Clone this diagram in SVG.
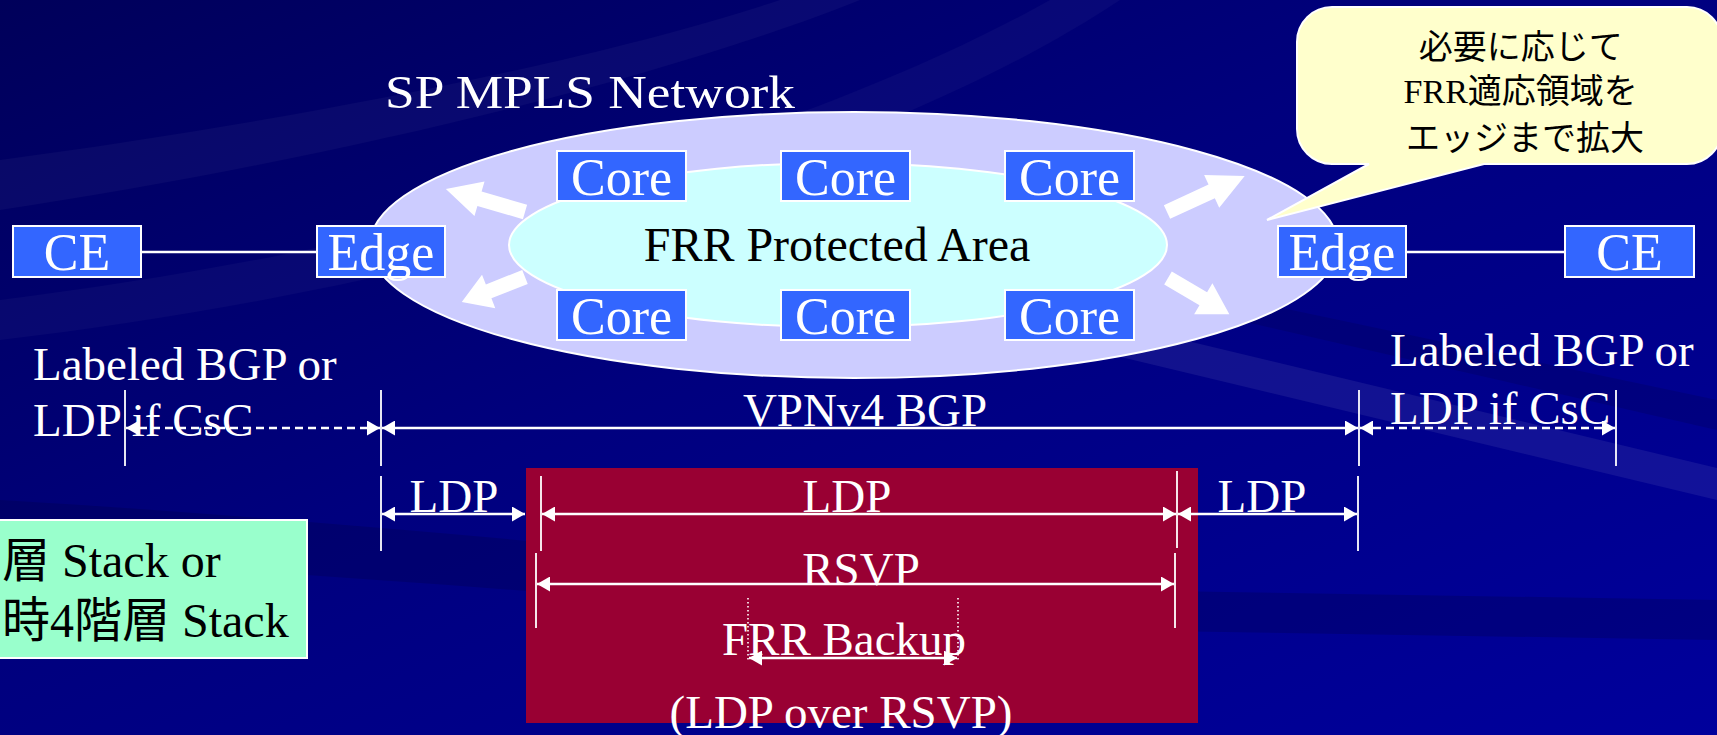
<svg xmlns="http://www.w3.org/2000/svg" width="1717" height="735" viewBox="0 0 1717 735">
  <style>
    .serif { font-family: "Liberation Serif", "Noto Sans CJK JP", serif; }
    .box { fill: #3366FF; stroke: #FFFFFF; stroke-width: 2; }
    .boxlabel { fill: #FFFFFF; font-size: 52px; text-anchor: middle; }
    .wtext { fill: #FFFFFF; font-size: 47px; }
    .mid { text-anchor: middle; }
    .link { stroke: #FFFFFF; stroke-width: 2.5; fill: none; }
    .span { stroke: #FFFFFF; stroke-width: 2.5; fill: none; marker-start: url(#head); marker-end: url(#head); }
    .dashed { stroke-dasharray: 8 5; }
    .tick { stroke: #FFFFFF; stroke-width: 1.8; }
    .dots { stroke: #FFFFFF; stroke-width: 1.6; stroke-dasharray: 1.5 2.5; }
    .bigarrow { fill: #FFFFFF; }
  </style>
  <defs>
    <linearGradient id="bgGrad" x1="0" y1="0" x2="1" y2="1">
      <stop offset="0" stop-color="#00005A"/>
      <stop offset="0.45" stop-color="#00007E"/>
      <stop offset="1" stop-color="#00009C"/>
    </linearGradient>
    <marker id="head" viewBox="0 0 13 15" refX="13" refY="7.5" markerWidth="13" markerHeight="15" markerUnits="userSpaceOnUse" orient="auto-start-reverse">
      <path d="M0,0 L13,7.5 L0,15 Z" fill="#FFFFFF"/>
    </marker>
    <!-- block arrow pointing along +x, 80 long -->
    <path id="blockArrow" d="M0,-7.5 L46,-7.5 L46,-18 L80,0 L46,18 L46,7.5 L0,7.5 Z"/>
  </defs>

  <!-- background with soft diagonal streaks -->
  <g id="background">
    <rect x="0" y="0" width="1717" height="735" fill="url(#bgGrad)"/>
    <path d="M0,160 C300,120 600,60 780,0 L860,0 C660,80 330,160 0,210 Z" fill="#FFFFFF" opacity="0.035"/>
    <path d="M0,300 C400,250 800,140 1050,0 L1120,0 C880,160 430,290 0,340 Z" fill="#FFFFFF" opacity="0.03"/>
    <path d="M0,500 C350,520 700,560 1100,590 L1717,600 L1717,640 L1100,630 C700,610 350,570 0,560 Z" fill="#000040" opacity="0.25"/>
    <path d="M1100,320 L1717,468 L1717,500 L1100,352 Z" fill="#FFFFFF" opacity="0.07"/>
    <path d="M1150,280 L1717,400 L1717,430 L1150,300 Z" fill="#000040" opacity="0.2"/>
  </g>

  <!-- network cloud -->
  <g id="sp-network">
    <ellipse cx="854" cy="245" rx="484" ry="133" fill="#CCCCFF" stroke="#FFFFFF" stroke-width="2"/>
    <text class="serif wtext" x="385" y="108" font-size="54" textLength="410" lengthAdjust="spacingAndGlyphs">SP MPLS Network</text>
  </g>
  <g id="frr-area">
    <ellipse cx="838" cy="245" rx="329" ry="82" fill="#CCFFFF" stroke="#FFFFFF" stroke-width="2"/>
    <text class="serif mid" x="837" y="261" font-size="48" fill="#000000">FRR Protected Area</text>
  </g>

  <!-- expansion arrows -->
  <g id="expand-arrows" class="bigarrow">
    <use href="#blockArrow" transform="translate(525,212) rotate(196.2) scale(1.03,1)"/>
    <use href="#blockArrow" transform="translate(525,277) rotate(158.4) scale(0.85,1)"/>
    <use href="#blockArrow" transform="translate(1167,212) rotate(-24.8) scale(1.07,1)"/>
    <use href="#blockArrow" transform="translate(1168,278) rotate(30.5) scale(0.89,1)"/>
  </g>

  <!-- connectors -->
  <g id="connectors">
    <line class="link" x1="141" y1="252" x2="317" y2="252"/>
    <line class="link" x1="1406" y1="252" x2="1565" y2="252"/>
  </g>

  <!-- nodes -->
  <g id="ce-left">
    <rect class="box" x="13" y="226" width="128" height="51"/>
    <text class="serif boxlabel" x="77" y="270">CE</text>
  </g>
  <g id="edge-left">
    <rect class="box" x="317" y="226" width="128" height="51"/>
    <text class="serif boxlabel" x="381" y="270">Edge</text>
  </g>
  <g id="core-1">
    <rect class="box" x="557" y="151" width="129" height="50"/>
    <text class="serif boxlabel" x="621.5" y="195">Core</text>
  </g>
  <g id="core-2">
    <rect class="box" x="781" y="151" width="129" height="50"/>
    <text class="serif boxlabel" x="845.5" y="195">Core</text>
  </g>
  <g id="core-3">
    <rect class="box" x="1005" y="151" width="129" height="50"/>
    <text class="serif boxlabel" x="1069.5" y="195">Core</text>
  </g>
  <g id="core-4">
    <rect class="box" x="557" y="290" width="129" height="50"/>
    <text class="serif boxlabel" x="621.5" y="334">Core</text>
  </g>
  <g id="core-5">
    <rect class="box" x="781" y="290" width="129" height="50"/>
    <text class="serif boxlabel" x="845.5" y="334">Core</text>
  </g>
  <g id="core-6">
    <rect class="box" x="1005" y="290" width="129" height="50"/>
    <text class="serif boxlabel" x="1069.5" y="334">Core</text>
  </g>
  <g id="edge-right">
    <rect class="box" x="1278" y="226" width="128" height="51"/>
    <text class="serif boxlabel" x="1342" y="270">Edge</text>
  </g>
  <g id="ce-right">
    <rect class="box" x="1565" y="226" width="129" height="51"/>
    <text class="serif boxlabel" x="1629.5" y="270">CE</text>
  </g>

  <!-- callout -->
  <g id="callout">
    <path d="M1332,7 H1687 A35,35 0 0 1 1722,42 V129 A35,35 0 0 1 1687,164 H1484 L1267,220 L1369,164 H1332 A35,35 0 0 1 1297,129 V42 A35,35 0 0 1 1332,7 Z" fill="#FFFFCC" stroke="#FFFFFF" stroke-width="2"/>
    <text class="serif mid" font-size="34" fill="#000000">
      <tspan x="1525" y="59">必要に応じて</tspan>
      <tspan x="1525" y="103">FRR適応領域を</tspan>
      <tspan x="1525" y="150">エッジまで拡大</tspan>
    </text>
  </g>

  <!-- label stack note -->
  <g id="stack-note">
    <rect x="-4" y="520" width="311" height="138" fill="#99FFCC" stroke="#FFFFFF" stroke-width="2"/>
    <text class="serif" font-size="48" fill="#000000" x="2" y="577">層 Stack or</text>
    <text class="serif" font-size="48" fill="#000000" x="2" y="637">時4階層 Stack</text>
  </g>

  <!-- LDP-over-RSVP region -->
  <g id="frr-backup-region">
    <rect x="526" y="468" width="672" height="255" fill="#990033"/>
  </g>

  <!-- protocol spans -->
  <g id="spans">
    <!-- VPNv4 BGP / CsC row -->
    <text class="serif wtext" x="33" y="380" font-size="48">Labeled BGP or</text>
    <text class="serif wtext" x="33" y="436" font-size="48">LDP if CsC</text>
    <text class="serif wtext" x="1390" y="366" font-size="48">Labeled BGP or</text>
    <text class="serif wtext" x="1390" y="424" font-size="48">LDP if CsC</text>
    <text class="serif wtext mid" x="865" y="426">VPNv4 BGP</text>
    <line class="tick" x1="125" y1="390" x2="125" y2="466"/>
    <line class="tick" x1="381" y1="390" x2="381" y2="466"/>
    <line class="tick" x1="1359" y1="390" x2="1359" y2="466"/>
    <line class="tick" x1="1616" y1="390" x2="1616" y2="466"/>
    <line class="span dashed" x1="126" y1="428" x2="380" y2="428"/>
    <line class="span" x1="382" y1="428" x2="1358" y2="428"/>
    <line class="span dashed" x1="1360" y1="428" x2="1615" y2="428"/>

    <!-- LDP row -->
    <line class="tick" x1="381" y1="476" x2="381" y2="551"/>
    <line class="tick" x1="541" y1="476" x2="541" y2="551"/>
    <line class="tick" x1="1177" y1="471" x2="1177" y2="548"/>
    <line class="tick" x1="1358" y1="476" x2="1358" y2="551"/>
    <text class="serif wtext mid" x="454" y="512">LDP</text>
    <text class="serif wtext mid" x="847" y="512">LDP</text>
    <text class="serif wtext mid" x="1262" y="512">LDP</text>
    <line class="span" x1="382" y1="514" x2="525" y2="514"/>
    <line class="span" x1="542" y1="514" x2="1176" y2="514"/>
    <line class="span" x1="1178" y1="514" x2="1357" y2="514"/>

    <!-- RSVP row -->
    <line class="tick" x1="536" y1="553" x2="536" y2="628"/>
    <line class="tick" x1="1175" y1="553" x2="1175" y2="628"/>
    <text class="serif wtext mid" x="861" y="585">RSVP</text>
    <line class="span" x1="537" y1="584" x2="1174" y2="584"/>

    <!-- FRR backup row -->
    <line class="dots" x1="748" y1="598" x2="748" y2="660"/>
    <line class="dots" x1="958" y1="598" x2="958" y2="660"/>
    <text class="serif wtext mid" x="844" y="655">FRR Backup</text>
    <line class="span" x1="749" y1="658" x2="957" y2="658"/>
    <text class="serif wtext mid" x="841" y="728">(LDP over RSVP)</text>
  </g>
</svg>
